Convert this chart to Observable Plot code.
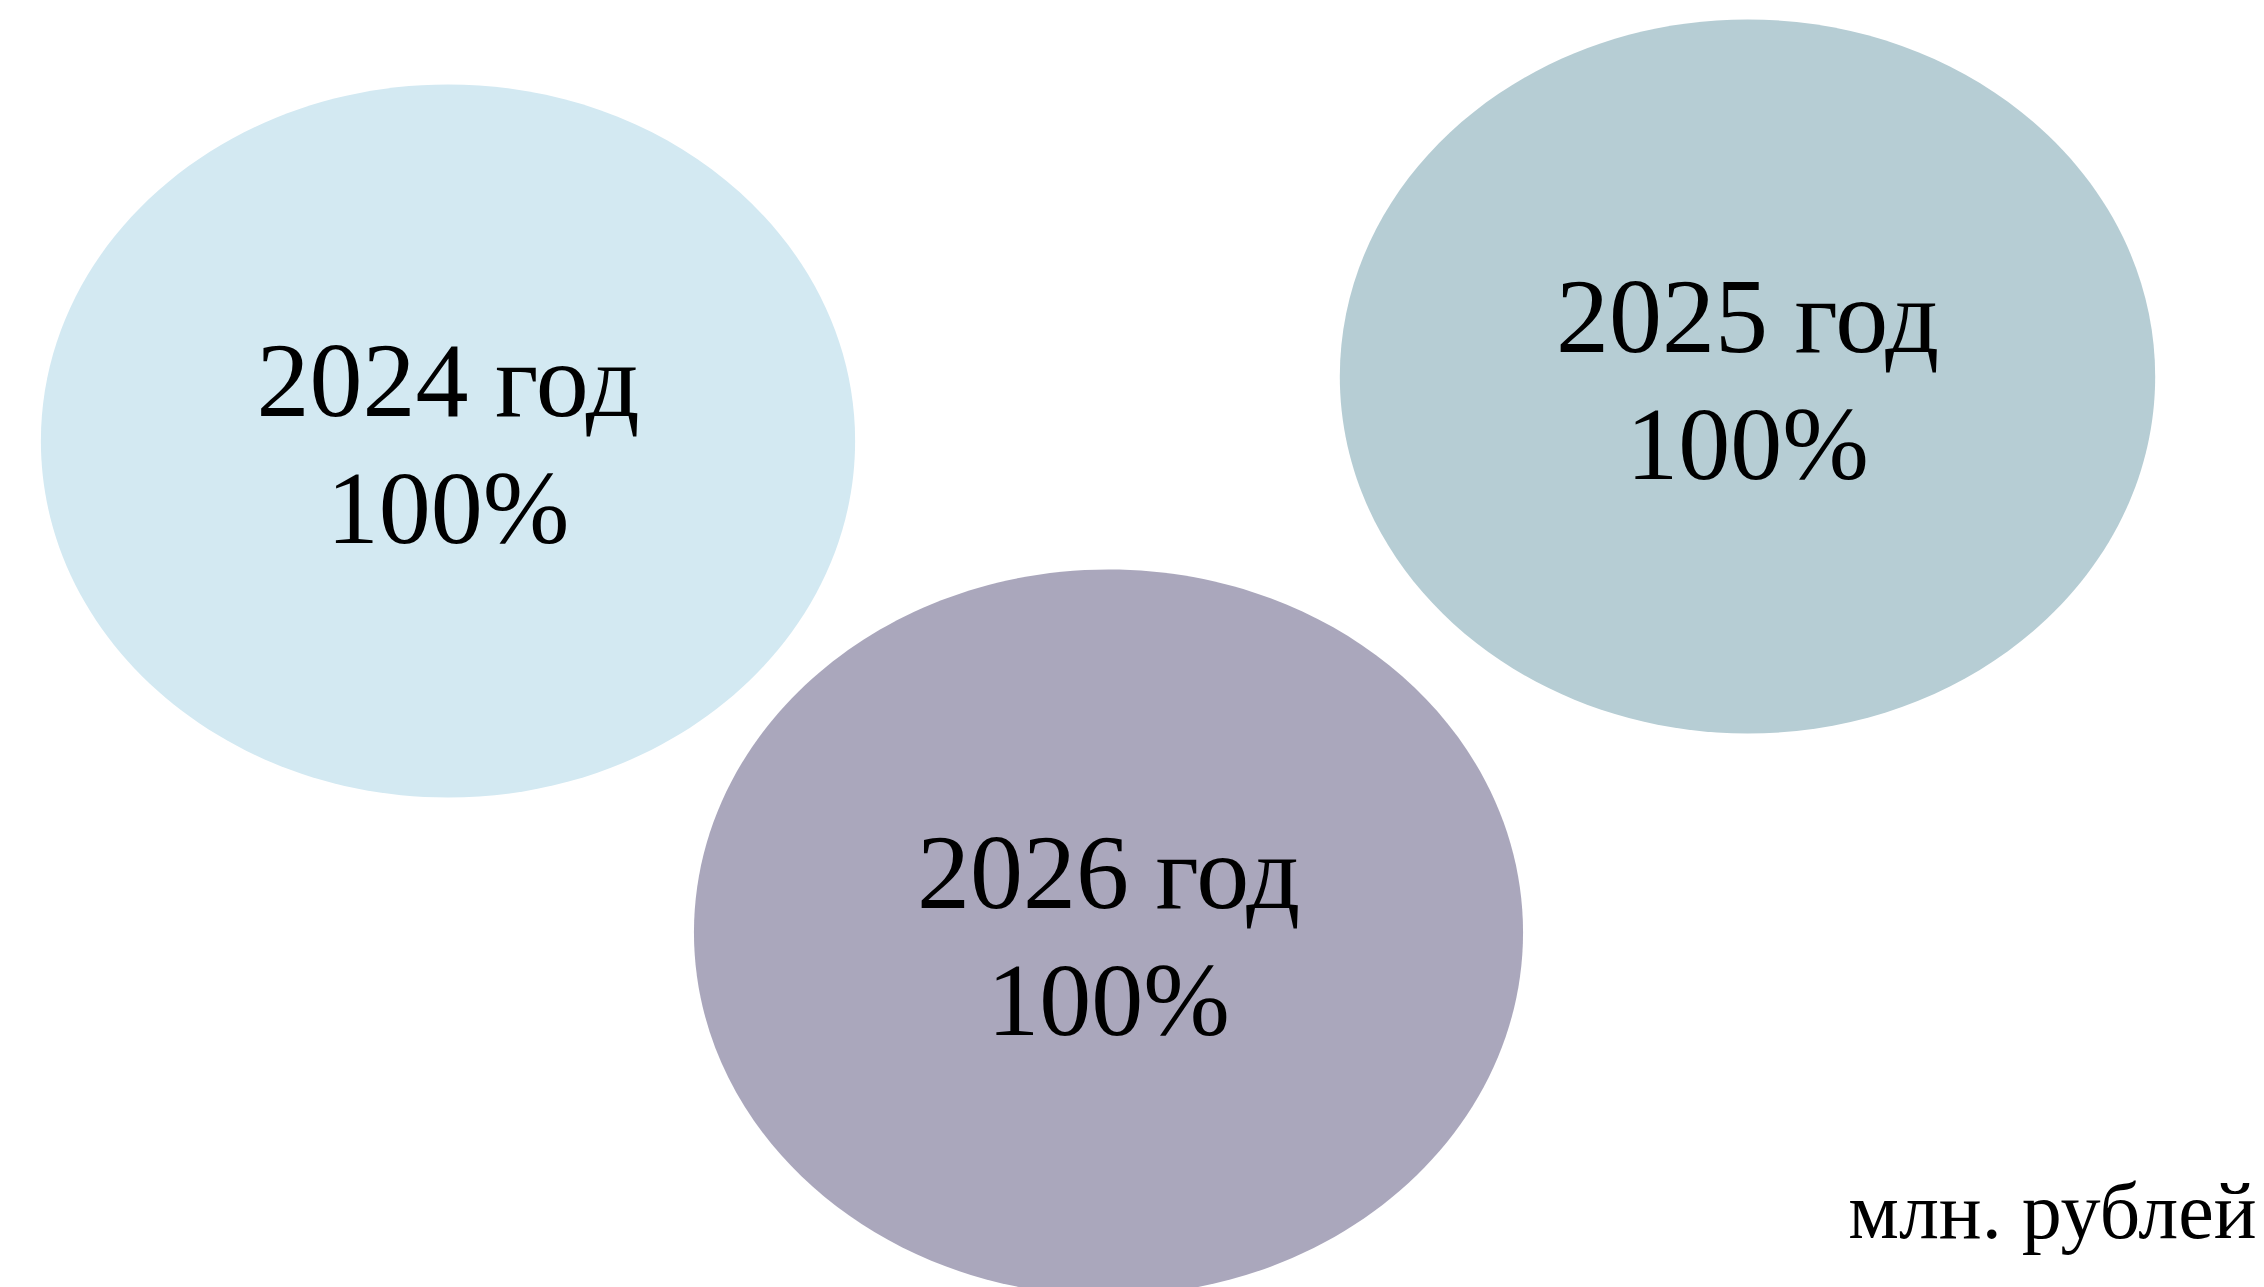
<!DOCTYPE html>
<html>
<head>
<meta charset="utf-8">
<script src="https://cdn.jsdelivr.net/npm/d3@7"></script>
<script src="https://cdn.jsdelivr.net/npm/@observablehq/plot@0.6"></script>
<style>
  html, body { margin: 0; padding: 0; background: #ffffff; overflow: hidden; }
  #chart svg { display: block; }
</style>
</head>
<body>
<div id="chart"></div>
<script>
// ---- data ----
const years = ["2024", "2025", "2026"];
const shares = [100, 100, 100];
const yearWord = "год";
const unitLabel = "млн. рублей";

// ---- layout (positions / sizes, in page pixels) ----
const centerX = [447.5, 1747, 1108];
const centerY = [440.5, 376, 932];
const radiusY = [356.5, 357, 363];
const ASPECT = 1.142;

// ---- styles ----
const fills = ["#d3e9f2", "#b6cdd4", "#aaa7bc"];
const FONT = "'Liberation Serif', 'Times New Roman', serif";

const rows = years.map((y, i) => ({
  year: y,
  share: shares[i],
  cx: centerX[i],
  cy: centerY[i],
  ry: radiusY[i],
  fill: fills[i]
}));

const ellipse = {
  draw(ctx, size) {
    const ry = Math.sqrt(size / Math.PI), rx = ry * ASPECT, k = 0.5522847498;
    ctx.moveTo(rx, 0);
    ctx.bezierCurveTo(rx, k * ry, k * rx, ry, 0, ry);
    ctx.bezierCurveTo(-k * rx, ry, -rx, k * ry, -rx, 0);
    ctx.bezierCurveTo(-rx, -k * ry, -k * rx, -ry, 0, -ry);
    ctx.bezierCurveTo(k * rx, -ry, rx, -k * ry, rx, 0);
    ctx.closePath();
  }
};

const W = 2264, H = 1287;

const chart = Plot.plot({
  width: W,
  height: H,
  margin: 0,
  style: { background: "#ffffff", fontFamily: FONT, overflow: "visible" },
  x: { domain: [0, W], axis: null },
  y: { domain: [H, 0], axis: null },
  r: { type: "identity" },
  marks: [
    Plot.dot(rows, {
      x: "cx",
      y: "cy",
      r: "ry",
      symbol: ellipse,
      fill: "fill",
      stroke: "none"
    }),
    Plot.text(rows, {
      x: "cx",
      y: "cy",
      text: d => `${d.year} ${yearWord}`,
      fontSize: 106,
      fontFamily: FONT,
      fill: "#000000",
      textAnchor: "middle",
      lineAnchor: "bottom",
      dy: -25
    }),
    Plot.text(rows, {
      x: "cx",
      y: "cy",
      text: d => `${d.share}%`,
      fontSize: 104,
      fontFamily: FONT,
      fill: "#000000",
      textAnchor: "middle",
      lineAnchor: "bottom",
      dy: 102
    }),
    Plot.text([unitLabel], {
      frameAnchor: "bottom-right",
      text: d => d,
      fontSize: 80,
      fontFamily: FONT,
      fill: "#000000",
      textAnchor: "end",
      lineAnchor: "bottom",
      dx: -8,
      dy: -50
    })
  ]
});

document.getElementById("chart").appendChild(chart);
</script>
</body>
</html>
